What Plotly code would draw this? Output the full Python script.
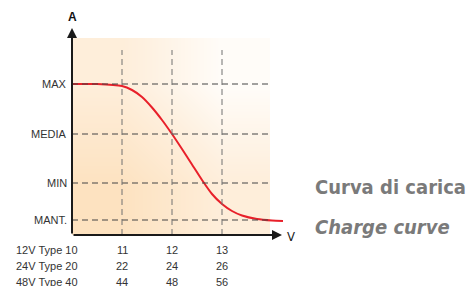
import plotly.graph_objects as go

# ---- data ----
volts = [10.0, 10.5, 11.0, 11.2, 11.4, 11.6, 11.8, 12.0, 12.2, 12.4, 12.6, 12.8, 13.0, 13.2, 13.4, 13.7, 14.0, 14.22]
amps = [3.02, 3.02, 2.98, 2.90, 2.76, 2.55, 2.30, 2.02, 1.72, 1.41, 1.10, 0.82, 0.62, 0.48, 0.39, 0.32, 0.29, 0.28]

level_names = ["MAX", "MEDIA", "MIN", "MANT."]
level_values = [3.02, 2.02, 1.04, 0.30]

volt_ticks = [11, 12, 13]
row_labels = ["12V Type 10", "24V Type 20", "48V Type 40"]
row_values = [[11, 12, 13], [22, 24, 26], [44, 48, 56]]

bg_x = [10.0, 11.98, 13.96]
bg_y = [0.0, 1.97, 3.94]
bg_z = [[0.0, 0.5], [0.5, 1.0]]

title_it = "Curva di carica"
title_en = "Charge curve"

W, H = 466, 286
L, R, T, B = 72, 174, 10, 51
pw, ph = W - L - R, H - T - B


def px(xp):
    return (xp - L) / pw


def py(yp):
    return (H - B - yp) / ph


fig = go.Figure()

# background gradient
fig.add_trace(go.Heatmap(
    x=bg_x, y=bg_y, z=bg_z, zsmooth="best", showscale=False, hoverinfo="skip",
    colorscale=[[0, "#fde2c0"], [0.6, "#fef0df"], [1, "#fffcf8"]],
))

# gridlines
for v in level_values:
    fig.add_shape(type="line", x0=10, x1=13.96, y0=v, y1=v,
                  line=dict(color="#444444", width=1, dash="6px,4px"), layer="above")
for t in volt_ticks:
    fig.add_shape(type="line", x0=t, x1=t, y0=0, y1=3.7,
                  line=dict(color="#707070", width=1, dash="6px,4px"), layer="above")

# curve
fig.add_trace(go.Scatter(
    x=volts, y=amps, mode="lines",
    line=dict(color="#e8202a", width=2, shape="spline", smoothing=0.6),
    hoverinfo="skip",
))

base_font = "Liberation Sans, Arial"
title_font = "Liberation Sans Narrow, DejaVu Sans Condensed, Arial Narrow"

ann = []
# axes with arrows
ann.append(dict(x=10, y=4.14, ax=10, ay=0, xref="x", yref="y", axref="x", ayref="y",
                showarrow=True, arrowhead=2, arrowsize=1, arrowwidth=2, arrowcolor="#1a1a1a", text=""))
ann.append(dict(x=14.2, y=0, ax=10, ay=0, xref="x", yref="y", axref="x", ayref="y",
                showarrow=True, arrowhead=2, arrowsize=1, arrowwidth=2, arrowcolor="#1a1a1a", text=""))
ann.append(dict(x=10, y=4.36, xref="x", yref="y", text="<b>A</b>", showarrow=False,
                font=dict(size=12, color="#111111", family=base_font)))
ann.append(dict(x=14.2, y=0, xref="x", yref="y", text="V", showarrow=False, xanchor="left", xshift=3,
                yshift=-1, font=dict(size=13, color="#222222", family=title_font)))

for name, v in zip(level_names, level_values):
    ann.append(dict(x=10, y=v, xref="x", yref="y", text=name, showarrow=False, xanchor="right",
                    xshift=-3, font=dict(size=11, color="#333333", family=base_font)))

for i, (lab, vals) in enumerate(zip(row_labels, row_values)):
    ys = -15 - 16 * i
    ann.append(dict(x=px(14), y=0, xref="paper", yref="y", text=lab, showarrow=False, xanchor="left",
                    yshift=ys, font=dict(size=11, color="#333333", family=base_font)))
    for t, val in zip(volt_ticks, vals):
        ann.append(dict(x=t, y=0, xref="x", yref="y", text=str(val), showarrow=False,
                        yshift=ys, font=dict(size=11, color="#333333", family=base_font)))

ann.append(dict(x=px(313), y=py(187), xref="paper", yref="paper", text="<b>" + title_it + "</b>",
                showarrow=False, xanchor="left", yanchor="middle",
                font=dict(size=20, color="#7a7a7a", family=title_font)))
ann.append(dict(x=px(313), y=py(227), xref="paper", yref="paper", text="<b><i>" + title_en + "</i></b>",
                showarrow=False, xanchor="left", yanchor="middle",
                font=dict(size=20, color="#7a7a7a", family=title_font)))

fig.update_layout(
    annotations=ann,
    width=W, height=H,
    margin=dict(l=L, r=R, t=T, b=B, pad=0),
    paper_bgcolor="white", plot_bgcolor="white",
    showlegend=False,
    xaxis=dict(range=[10, 14.4], visible=False, fixedrange=True),
    yaxis=dict(range=[0, 4.5], visible=False, fixedrange=True),
)

fig.write_html("out.html", config={"displayModeBar": False},
               post_script="document.body.style.margin='0';")
